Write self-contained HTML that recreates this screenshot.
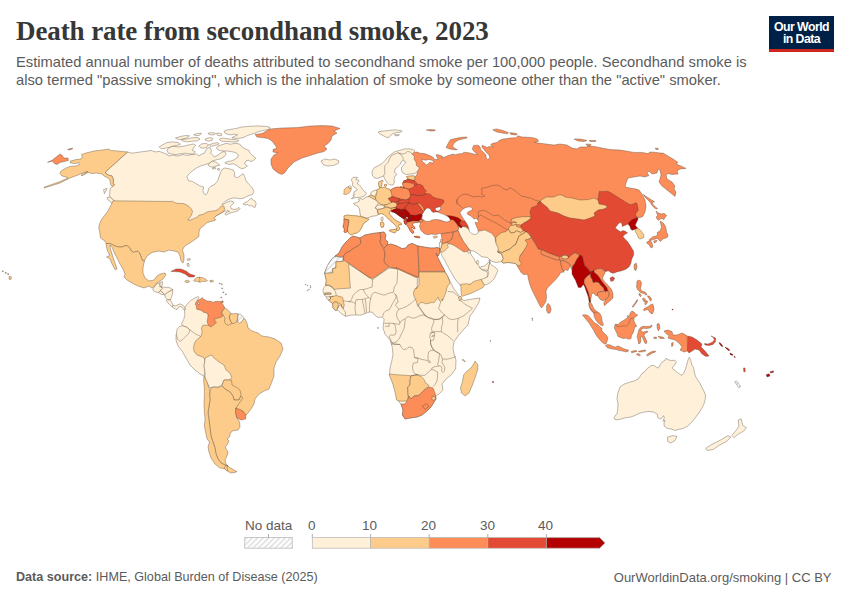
<!DOCTYPE html>
<html><head><meta charset="utf-8"><title>Death rate from secondhand smoke, 2023</title>
<style>
html,body{margin:0;padding:0;background:#fff;}
body{width:850px;height:600px;position:relative;overflow:hidden;font-family:"Liberation Sans",sans-serif;}
#title{position:absolute;left:16px;top:15.9px;font-family:"Liberation Serif",serif;font-weight:bold;font-size:27px;line-height:normal;color:#373737;white-space:nowrap;letter-spacing:-0.1px;}
#sub{position:absolute;left:16px;top:53.45px;font-size:14.74px;line-height:18px;color:#5b5b5b;white-space:nowrap;}
#logo{position:absolute;left:769px;top:16px;width:65px;height:33px;background:#002147;border-bottom:3px solid #ce261e;color:#fff;font-weight:bold;font-size:12.3px;line-height:12.5px;text-align:center;letter-spacing:-0.55px;}
#logo div{margin-top:4.7px;}
#src{position:absolute;left:16px;top:570px;font-size:12.6px;color:#5b5b5b;white-space:nowrap;}
#src b{font-weight:bold;}
#url{position:absolute;right:18.5px;top:569.7px;font-size:13px;color:#5b5b5b;white-space:nowrap;}
.lg{position:absolute;font-size:13.5px;color:#5b5b5b;top:518px;}
svg{position:absolute;left:0;top:0;}
</style></head><body>
<div id="title">Death rate from secondhand smoke, 2023</div>
<div id="sub">Estimated annual number of deaths attributed to secondhand smoke per 100,000 people. Secondhand smoke is<br>also termed "passive smoking", which is the inhalation of smoke by someone other than the "active" smoker.</div>
<div id="logo"><div>Our World<br>in Data</div></div>
<div class="lg" style="left:245px">No data</div>
<div class="lg" style="left:308px">0</div>
<div class="lg" style="left:362px">10</div>
<div class="lg" style="left:421px">20</div>
<div class="lg" style="left:480px">30</div>
<div class="lg" style="left:538px">40</div>
<div id="src"><b>Data source:</b> IHME, Global Burden of Disease (2025)</div>
<div id="url">OurWorldinData.org/smoking | CC BY</div>
<svg width="850" height="600" viewBox="0 0 850 600">
<defs><pattern id="hatch" width="3.9" height="3.9" patternUnits="userSpaceOnUse" patternTransform="rotate(45)"><rect width="3.9" height="3.9" fill="#fff"/><rect x="0" y="0" width="1.9" height="3.9" fill="#e4e4e4"/></pattern></defs>
<g stroke="#4a3a2a" stroke-width="0.6" stroke-opacity="0.6" stroke-linejoin="round">
<path d="M390,198L398,196L408,196L412,200L412,210L406,216L400,216L396,210L392,204Z" fill="#e34a33" stroke="#e34a33" stroke-width="0.9" stroke-opacity="1"/>
<path d="M410,193L410.5,196L409,198.5L408.5,201L409,202.5L410,203.5L412,204.5L416,204L419,203.5L417,203.5L418.5,203.5L421,206L422,208L423.5,209.5L425,210.2L427,208.2L430,209L432,213L436,213L440.5,209.5L440,206.5L442,204.5L444,202.5L443.5,200L440,199L437,198.5L433,197L430,194L426,193.5L423,195L418,195.5L413,194.5L410,195Z" fill="#e34a33" stroke="#e34a33" stroke-width="0.9" stroke-opacity="1"/>
<path d="M417.24,203.24L418.53,202.94L420.29,203.82L422.06,205.59L423.53,207.65L424.12,209.12L423.24,210.41L422.65,210.59L421.35,209.71L420.76,208.24L419.71,206.65L418.53,205.29L417.65,204.41Z" fill="#fc8d59" stroke="#fc8d59" stroke-width="0.9" stroke-opacity="1"/>
<path d="M410,187.5L412,185L416,184.5L419,184L422.5,185.5L424,188.5L426.5,191L425,192.5L425.5,194L423,195L418,195.5L413,194.5L410,195L407,194.5L405,192.5L405.5,189.5L407,187.8Z" fill="#e34a33" stroke="#e34a33" stroke-width="0.9" stroke-opacity="1"/>
<path d="M406.5,176.5L410,176L414,175.8L415,178L414.5,180.5L410,179.5L407.5,178.5Z" fill="#fdcc8a" stroke="#fdcc8a" stroke-width="0.9" stroke-opacity="1"/>
<path d="M403.5,181L406,180.5L407.5,179L410,179.8L414.5,180.8L417,183L416.5,185L414,185.5L410,184.5L407,184L404,183.2Z" fill="#e34a33" stroke="#e34a33" stroke-width="0.9" stroke-opacity="1"/>
<path d="M402.5,182.8L406,182.2L410,182.8L414,183.8L414.5,186L412,188L409,189L406.5,188.5L404,187.5L403,185.5Z" fill="#fc8d59" stroke="#fc8d59" stroke-width="0.9" stroke-opacity="1"/>
<path d="M400,186.8L404,187.2L404,188L400.5,188.2Z" fill="#fc8d59" stroke="#fc8d59" stroke-width="0.9" stroke-opacity="1"/>
<path d="M390.5,190L394,188L398,187L402,188L406.5,188.5L409,190L410,193L410.5,196L409,198.5L406,200L402.5,199.5L399.5,198.5L396.5,198L394,197L391.5,196L391,193Z" fill="#fc8d59" stroke="#fc8d59" stroke-width="0.9" stroke-opacity="1"/>
<path d="M388,198.5L391,197L394,197L397,198.2L399.5,199L399,201L396,202L393,202.2L390.5,201.5Z" fill="#e34a33" stroke="#e34a33" stroke-width="0.9" stroke-opacity="1"/>
<path d="M398,201.8L400,200.5L402.5,199.7L406,200L409,199L409,202.5L406,203.5L402,204L399,204Z" fill="#e34a33" stroke="#e34a33" stroke-width="0.9" stroke-opacity="1"/>
<path d="M396.76,204.12L399.12,203.82L402.06,203.24L405,202.65L407.65,202.35L408.53,203.24L407.65,205L406.18,206.47L404.41,207.65L402.65,208.82L401.47,209.71L399.12,209.12L396.76,208.65L396.47,206.76Z" fill="#e34a33" stroke="#e34a33" stroke-width="0.9" stroke-opacity="1"/>
<path d="M406.18,206.47L407.65,205L408.53,203.24L410.88,203.82L413.24,204.41L415.59,203.82L417.24,203.24L417.65,204.41L418.53,205.29L419.71,206.65L420.76,208.24L421.35,209.71L422.65,210.59L423.82,211.47L422.94,212.65L421.76,214.12L421,214.12L419.12,214.41L416.76,215.29L414.41,215.59L412.06,215L410.29,215.29L409.12,212.65L407.65,211.47L406.18,209.71L405.29,208.24Z" fill="#e34a33" stroke="#e34a33" stroke-width="0.9" stroke-opacity="1"/>
<path d="M376.5,190L379.5,188.5L380.5,187.2L382.5,187.5L384.5,187L387,188.5L390,189.5L391,192L392,195L391,197L388,198.5L390,201L391.5,202.5L389.5,204L387,204.5L384,205L381,204.5L378.5,203L376.5,201L375.5,198.5L376,195L377,192Z" fill="#fdcc8a" stroke="#fdcc8a" stroke-width="0.9" stroke-opacity="1"/>
<path d="M378.59,182.65L379.18,181.47L380.65,181.18L381.82,180.29L382.71,180.29L382.82,181.47L381.82,182.65L382,184.41L381.24,186.18L380.35,187.65L379.47,187.35L378.88,185.88L378.47,184.12Z" fill="#fdcc8a" stroke="#fdcc8a" stroke-width="0.9" stroke-opacity="1"/>
<path d="M384.47,184.59L385.65,184.24L386.71,184.71L386.53,185.88L385.35,186.35L384.47,185.76Z" fill="#fdcc8a" stroke="#fdcc8a" stroke-width="0.9" stroke-opacity="1"/>
<path d="M371,192.5L374,190.5L376.5,190L377,192L375.5,195L374.5,196.5L371.5,195.2L370.5,194Z" fill="#fef0d9" stroke="#fef0d9" stroke-width="0.9" stroke-opacity="1"/>
<path d="M368.5,196L371.5,195.2L374.5,196.5L375.5,198.5L374.5,200L371.5,198.2L369,197Z" fill="#fdcc8a" stroke="#fdcc8a" stroke-width="0.9" stroke-opacity="1"/>
<path d="M353.5,203.5L356.5,202.5L359.5,201L358.5,199L361,198.5L362.5,199.5L366.5,197L369,196.5L371.5,198L374.5,199.5L376.5,201L378.5,202.5L377.5,204.5L376,206.5L375.5,208.5L377.5,210L377.2,212L378.5,214.5L376,215.8L373,216L370,217L367,218.2L364,217.2L360.5,216L360,213L359.5,209L358,206.5L355,205Z" fill="#fef0d9" stroke="#fef0d9" stroke-width="0.9" stroke-opacity="1"/>
<path d="M381,218L382.5,216.8L383.2,219L382.5,221L381.2,220.5Z" fill="#fef0d9" stroke="#fef0d9" stroke-width="0.9" stroke-opacity="1"/>
<path d="M375.5,207L378.5,205L382,205L384.5,206.2L384,208L381,209L378,209.5L376,208.5Z" fill="#fef0d9" stroke="#fef0d9" stroke-width="0.9" stroke-opacity="1"/>
<path d="M384,205L387,204.5L390,203L393,202L396,202.8L397,205L396,207L393,207.8L390,208L387,207L384.5,206.5Z" fill="#fdcc8a" stroke="#fdcc8a" stroke-width="0.9" stroke-opacity="1"/>
<path d="M344,216L347,215L351,215.5L356,215.8L360.5,216.5L364,217.8L367,218.5L369,219.2L367,221.2L364,223L362.5,225.5L361.5,228L360,230.5L357,233L354,233.5L351,235L349.5,234L348,232L347.5,229L348,226L348.5,223L349,220L346,219.5L344,218.5Z" fill="#fdcc8a" stroke="#fdcc8a" stroke-width="0.9" stroke-opacity="1"/>
<path d="M344,219L346,219.5L348.8,220.2L348.5,223L348,226L347.5,229L347.5,231.5L345.5,232.5L344,232L344.5,229L343,227L344,223Z" fill="#fc8d59" stroke="#fc8d59" stroke-width="0.9" stroke-opacity="1"/>
<path d="M377.5,210L378,209.5L381,209L384,208L387,207.2L390,208.2L392,209.5L391,211L389,212L390,214.5L393,218L396,220.5L399,222L402,224L401,225L399,224.5L398.5,226.5L400,228L399,230L397.8,231L396.5,229.5L397,227.5L395.5,225.5L393,223L390,220.5L387,217.5L384,214.5L381,213.5L378.5,214.5Z" fill="#fdcc8a" stroke="#fdcc8a" stroke-width="0.9" stroke-opacity="1"/>
<path d="M389.5,230L393,229.5L396.5,229L396,231.5L395,233L392,232L389.5,231Z" fill="#fdcc8a" stroke="#fdcc8a" stroke-width="0.9" stroke-opacity="1"/>
<path d="M380.5,222.5L383,222L384,224L383.5,227L381.5,227.5L380.5,225Z" fill="#fdcc8a" stroke="#fdcc8a" stroke-width="0.9" stroke-opacity="1"/>
<path d="M391.18,208.53L393.24,207.94L395.29,207.65L396.76,208.65L394.71,209.12L392.65,210L391.18,210.41Z" fill="#fdcc8a" stroke="#fdcc8a" stroke-width="0.9" stroke-opacity="1"/>
<path d="M391.18,210.88L392.65,210L394.71,209.12L396.76,208.65L399.12,209.12L401.47,209.71L402.65,209.41L402.94,210.59L403.53,211.76L402.65,211.76L400.29,211.47L397.65,211.18L395.59,211.76L397.65,212.94L399.41,214.12L401.18,215.59L402.65,216.76L403.24,218.24L402.06,217.65L400,216.18L397.94,214.71L395.88,213.24L393.82,212.06L392.06,211.76Z" fill="#b30000" stroke="#b30000" stroke-width="0.9" stroke-opacity="1"/>
<path d="M395.59,211.76L397.65,211.18L400.29,211.47L402.65,211.76L403.53,211.76L404.41,213.24L404.12,215L404.12,215.88L402.65,216.76L401.18,215.59L399.41,214.12L397.65,212.94Z" fill="#b30000" stroke="#b30000" stroke-width="0.9" stroke-opacity="1"/>
<path d="M402.65,209.41L404.41,209.12L406.18,209.71L407.65,211.47L409.12,212.65L410.29,215.29L410.59,217.35L410.88,219.12L408.53,219.24L408.06,217.65L407.06,216.88L405.88,217.35L405,216.47L404.12,215L404.41,213.24L403.53,211.76L402.94,210.59Z" fill="#b30000" stroke="#b30000" stroke-width="0.9" stroke-opacity="1"/>
<path d="M402.65,216.76L404.12,215.88L405,216.47L405.88,217.35L406.47,218.82L405.29,218.53L404.12,219.12L403.24,218.24Z" fill="#b30000" stroke="#b30000" stroke-width="0.9" stroke-opacity="1"/>
<path d="M405.88,217.35L407.06,216.88L408.06,217.65L407.65,218.82L406.47,218.82Z" fill="url(#hatch)" stroke="url(#hatch)" stroke-width="0.9" stroke-opacity="1"/>
<path d="M404.12,219.12L405.29,218.53L406.47,218.82L406.88,221.47L406.47,223.24L405.59,224.41L404.71,223.82L404.12,221.76Z" fill="#e34a33" stroke="#e34a33" stroke-width="0.9" stroke-opacity="1"/>
<path d="M406.76,219.71L407.65,218.82L408.53,219.24L410.88,219.41L411.47,220.88L410.29,221.76L408.24,222.06L406.88,221.47Z" fill="#b30000" stroke="#b30000" stroke-width="0.9" stroke-opacity="1"/>
<path d="M410.29,215.29L412.06,215L414.41,215.59L416.76,215.29L419.12,214.41L421,214.12L421.94,215.29L421.47,216.76L420.88,218.24L421.47,219.41L419.71,220L417.94,220.88L415.59,220.88L413.24,220.59L411.47,220.88L410.88,219.12L410.59,217.35Z" fill="#b30000" stroke="#b30000" stroke-width="0.9" stroke-opacity="1"/>
<path d="M406.5,224.5L407.5,222L410.5,221.8L414,221L417,221L419,221.5L417.5,222.5L415.5,222.5L413.5,223L412.2,224L413,225.5L414.5,227L415,229L413.5,228.5L412,227L411.2,228L412.5,230L414,232L413,233.5L411.5,232.5L410,230.5L409,228.5L407.8,226.5Z" fill="#fc8d59" stroke="#fc8d59" stroke-width="0.9" stroke-opacity="1"/>
<path d="M414,236.5L417,236.2L420,237L419.5,237.8L416,237.5Z" fill="#fc8d59" stroke="#fc8d59" stroke-width="0.9" stroke-opacity="1"/>
<path d="M419.71,220L421.47,219.41L423.24,220.29L422.65,221.76L420.29,222.35L418.82,221.76Z" fill="#fc8d59" stroke="#fc8d59" stroke-width="0.9" stroke-opacity="1"/>
<path d="M127.6,152L132,153.2L140,152L148,151L152,150.4L152.82,151.34L156.35,151.91L159.18,151.34L164.12,153.18L167.65,154.59L168.35,156L173.29,155.29L178.24,156L182.47,154.59L186.71,155.29L192.35,154.59L196.59,153.88L198.71,156L200.82,154.59L204.35,153.18L205.76,150.35L207.18,148.24L210,147.53L211.41,150.35L210.71,153.18L212.82,155.29L214.24,156.99L217.76,155.29L220.59,153.18L222.71,151.76L224.82,151.76L226.24,153.88L224.12,156.71L220.59,158.82L216.35,159.81L212.82,160.94L209.29,163.06L205.76,164.47L200.82,165.88L196.59,168L192.35,170.82L188.82,174.35L186.99,176.47L188.4,180.71L192.35,181.41L195.88,183.53L199.41,185.65L203.65,187.06L202.94,190.59L203.65,193.41L205.76,194.82L207.88,192L208.59,188.47L210.71,186.35L214.94,184.24L217.76,180.71L219.18,176.47L220.59,172.24L222,169.41L224.82,168L229.06,168.71L233.29,170.12L234.71,172.94L234.42,176.47L236.82,177.88L240.35,175.76L243.18,173.65L244.59,176.47L246,180.71L248.82,184.24L251.65,187.06L253.76,190.59L253.5,192L252.5,194.5L249,195.5L246.5,196.5L244,198L240,198.8L236,198L232,198.2L229,199.2L226,200.8L223.5,202.8L222,205L224.5,203.5L227.5,202L230.5,201L233,201.5L234,203L232,204.5L230.5,206.5L231,208.5L234,209.5L236.5,209L239,207.5L240,208.5L239,210L236,211.5L232,212.5L229,213.5L226.5,215L225,214.5L225.5,213L227.5,212L229.5,211.2L227,210.8L224.5,211.2L218,215L200,225L185,223L170,210L170,208L115,208L115,201.4L111,198L109.6,196L110,189L112,187L114.4,185L113,183L113.6,180L112,176L108,175L105,172.4Z" fill="#fef0d9"/>
<path d="M107,197.6L110,197L114.4,201L113.6,205L111,202L108,200Z" fill="#fef0d9"/>
<path d="M103.6,189.6L107,188.4L106,191L104.4,193.6Z" fill="#fef0d9"/>
<path d="M243,204L245,202.5L247.5,201.5L250,199L251.5,198L253,200L255,201L256.2,203.5L255,207.5L253,206.5L251.5,205.5L249.5,206L247.5,204.5L245,205Z" fill="#fef0d9"/>
<path d="M216.35,148.24L217.76,146.12L222,144.71L226.24,143.29L230.47,144.28L234.71,143.29L239.65,144L241.76,146.82L245.29,148.94L248.82,150.35L250.24,153.18L253.06,156L255.88,158.12L253.76,160.24L250.94,161.65L248.82,160.24L246,160.94L244.59,163.76L247.41,165.88L244.59,168L241.76,168.71L238.94,167.29L236.12,165.18L233.29,163.76L229.06,164.47L224.82,163.06L226.94,161.65L231.18,160.94L234.71,159.53L237.53,157.41L238.24,154.59L235.41,152.47L231.88,151.76L227.65,151.06L223.41,151.06L219.18,150.35Z" fill="#fef0d9"/>
<path d="M224.12,131.29L226.94,129.88L231.88,129.18L236.12,128.47L241.76,127.06L248.82,126.35L257.29,125.93L265.76,126.35L269.58,127.06L269.58,129.18L262.94,130.59L257.29,132L254.47,133.41L251.65,134.12L247.41,135.53L243.18,137.65L238.94,138.35L234.71,138.35L231.88,137.65L234.71,136.24L237.53,134.82L234.71,134.12L230.47,134.82L226.94,134.12L224.82,132.99Z" fill="#fef0d9"/>
<path d="M219.18,139.06L223.41,138.07L229.06,139.06L234.71,139.48L238.94,140.47L237.53,141.88L231.88,141.88L226.24,141.46L221.29,141.18Z" fill="#fef0d9"/>
<path d="M216.35,133.41L219.18,132.99L222,134.12L221.29,135.81L217.76,135.53Z" fill="#fef0d9"/>
<path d="M207.88,133.41L211.41,132.42L215.65,133.41L214.24,134.82L210,134.82Z" fill="#fef0d9"/>
<path d="M166.94,150.35L169.06,147.53L172.59,146.12L178.24,146.82L183.88,146.12L189.53,144.71L193.76,144L195.88,145.41L193.76,147.53L192.35,150.35L195.18,151.76L193.76,153.88L189.53,153.88L185.29,153.18L180.35,153.88L175.41,154.59L171.18,153.88L168.35,153.18Z" fill="#fef0d9"/>
<path d="M159.18,146.82L162.71,144.71L166.94,142.59L172.59,141.88L178.24,142.59L180.35,144.28L176.82,145.41L172.59,146.12L169.06,147.53L164.82,148.24L161.29,148.94Z" fill="#fef0d9"/>
<path d="M175.41,138.07L179.65,136.66L185.29,135.53L189.53,135.81L187.41,137.65L183.88,138.64L180.35,139.48L177.53,139.06Z" fill="#fef0d9"/>
<path d="M193.76,134.82L197.29,133.41L201.53,133.41L199.41,135.25L195.88,135.81Z" fill="#fef0d9"/>
<path d="M181.06,139.76L186.71,139.06L192.35,137.65L198,137.65L200.12,139.06L197.29,140.89L192.35,141.18L186.71,141.88L183.18,141.18Z" fill="#fef0d9"/>
<path d="M198.71,146.12L201.53,144L205.76,143.29L208.59,144.71L206.47,147.53L202.94,148.24L200.12,147.53Z" fill="#fef0d9"/>
<path d="M205.06,139.06L209.29,137.65L212.82,138.35L212.12,140.47L208.59,141.18L205.76,140.47Z" fill="#fef0d9"/>
<path d="M209.29,144.71L213.53,143.29L217.76,142.59L219.18,144L214.94,145.41L210.71,146.54Z" fill="#fef0d9"/>
<path d="M207.88,165.18L212.12,160.94L216.35,162.35L219.88,165.18L216.35,165.88L212.82,167.29L210,166.59Z" fill="#fef0d9"/>
<path d="M212.12,168L215.22,167.29L215.65,168.71L212.82,169.13Z" fill="#fef0d9"/>
<path d="M217.48,168.71L219.18,168.28L219.46,170.12L217.76,170.12Z" fill="#fef0d9"/>
<path d="M113,200.8L111.5,204L110,207L108,211L105,215L102.5,218L100.5,221.5L99.2,225L98.8,228L99.5,231L100,234.5L100.5,238L102.5,239.5L105,241L106,243.5L110,243.5L112,244.5L115,246L118.5,247L122,247L124.5,246L126.5,245.5L128.5,246.5L130,248.5L131.5,251L133.5,252.5L135.5,251.5L138,251.2L139.5,253L140.5,255.5L141.5,258L142,260L144.4,261L147,256L152,252.4L159,251L164,252L169,250L174,251L178,252L180,256L181,261L183,263L184,260L184,255L182.4,250L184,247L186.5,245L190,243L193.5,240.5L196.5,238.5L198.5,237L199,235L199,232L199.5,230L200.5,228L202,227L203.5,226L205,224.5L206.5,223L209,222L212,221.2L215,220.5L215.8,219.5L214,218.5L215,217L216.5,215.5L219,214.2L222,212.5L224,211.2L224.5,209L224,206.2L221.5,206L220,207.2L218,209.5L215,210.8L211,211.2L207,212L203,214.5L199,215L197.5,217L194,218.5L190,220.2L187.8,220L189.5,218L191.5,215L192.5,211.5L191.5,209L189,206.5L186,204.5L183,203.5L179,203.5L175,202.8L172.5,201.2L170,201.5Z" fill="#fdcc8a"/>
<path d="M81.6,154.4L86,153L94,151L102,150L109,149L110.4,150.4L118,151L127.6,152L105,172.4L108,175L112,176L113.6,180L113,183L114.4,185L112,186.6L110.4,184L110,180L108,178L104,176L102,174L96,173L92,173.6L88,172.4L82,176L81,175L88,171.6L84,172.4L78,175L70,178L60,183L52,185.6L44,188L44.4,187L52,184.4L60,181.6L68,178L66,177L62,176L60,173.6L61,171L66,168L70,166.4L76,166L80,164L79,162.6L75,163.6L70.4,163L70.4,161L76,159.6L81,159L82.4,157Z" fill="#fdcc8a"/>
<path d="M47.6,162.4L52.4,160L60,154L62.4,155.6L63.6,158L68,158L68.4,160.4L64,161.6L60,162.4L57,164.4L54.4,163.6L52.4,161Z" fill="#fc8d59"/>
<path d="M67.6,149.4L72.4,148L72.4,149L69,150Z" fill="#fc8d59"/>
<path d="M255,134.4L262,133.6L270,129L282,128L298,127.6L310,126L322,125.6L332,126L340,128.4L334,131L337,133L332,136L331,140L328,143.6L324,146L327,149L324,151.6L318,153L310,155.6L302,158L294,162L288,168L285,172.4L282,174.4L278,173L273,169L271,164L271,159L274,155L278,153L273,152L273,149.6L277,148L275,145L272,141L268,138.4L262,137.6L257,137Z" fill="#fc8d59"/>
<path d="M321,161L325,159L330,160L335,159L339,161L338,163.6L333,165.6L327,166L323,164.4Z" fill="#fef0d9"/>
<path d="M106,243.5L110,243.5L112,244.5L115,246L118.5,247L122,247L124.5,246L126.5,245.5L128.5,246.5L130,248.5L131.5,251L133.5,252.5L135.5,251.5L138,251.2L139.5,253L140.5,255.5L141.5,258L142,260L144.4,261L143,268L143,273L145,278L149,281L154,280L157,276L160,274L165,273L166,275L163,279L160,281L157,283L155,286L152,288L149,286L144,288L138,286L132,283L127,280L124,277L125,274L123,269L120,264L117,258L114,252L112,247L110,245L110.4,249L112,254L114,260L116,266L117,269L115,269.6L112,264L110,259L107,257L106.5,257L108.5,256.5L109.5,254.5L107.5,251L106.5,247Z" fill="#fdcc8a"/>
<path d="M159.76,282.71L162.31,281.58L162.59,284.12L161.18,286.94L159.76,286.66Z" fill="#fef0d9"/>
<path d="M152.71,289.06L154.82,286.24L156.94,283.41L159.76,282.99L159.76,286.66L161.18,286.94L162.59,288.35L160.47,290.47L158.35,292.59L155.53,291.88L153.41,290.89Z" fill="#fef0d9"/>
<path d="M161.18,286.94L164.71,287.22L169.65,287.65L172.75,289.48L170.35,290.89L167.53,292.59L164.71,294.71L163.29,293.29L160.47,290.47L162.59,288.35Z" fill="#fef0d9"/>
<path d="M158.35,292.59L160.47,290.75L163.29,293.29L164,294.71L161.18,294.28Z" fill="#fef0d9"/>
<path d="M164.71,294.71L167.53,292.59L170.35,290.89L172.75,289.76L172.47,294L171.34,297.53L170.35,299.93L167.53,299.65L165.41,297.53Z" fill="#fef0d9"/>
<path d="M166.12,300.35L167.53,299.65L170.35,299.93L171.76,302.47L173.18,305.29L172.19,306.99L170.35,305.29L168.24,303.18Z" fill="#fef0d9"/>
<path d="M172.19,306.99L173.18,305.29L175.29,306L177.41,305.01L180.24,303.88L183.06,305.29L184.89,307.41L185.46,309.53L183.76,309.81L182.35,307.41L180.24,306.42L178.12,307.41L176.99,309.81L175.29,308.82L173.88,308.12Z" fill="#fef0d9"/>
<path d="M171,271.4L176,269L181,269L186,271L190,274L195,275.6L194,277L189,277L185,274L180,272L175,271.6Z" fill="#e34a33"/>
<path d="M193.65,280.16L196.47,277.76L199.29,277.06L202.82,277.76L205.65,279.18L207.48,280.59L204.94,281.58L202.12,281.29L200,282.42L197.18,281.29L194.35,281.29Z" fill="#fdcc8a"/>
<path d="M199.29,277.06L200,279.88L199.01,282" fill="none"/>
<path d="M184.89,281.01L187.29,280.16L189.41,281.01L188.71,282.42L185.88,282.42Z" fill="#fdcc8a"/>
<path d="M209.88,280.59L212.71,280.16L213.69,281.29L211.29,282.14L209.88,281.58Z" fill="#fdcc8a"/>
<path d="M187,259L190,258.6L190.4,260L187.6,260.4Z" fill="#fef0d9"/>
<path d="M187,263.6L189,263.6L189.2,266.4L187.4,266Z" fill="#fef0d9"/>
<path d="M219.34,282.99L220.19,282.99L220.19,283.84L219.34,283.84Z" fill="#fdcc8a"/>
<path d="M221.46,283.69L222.31,283.69L222.31,284.54L221.46,284.54Z" fill="#fdcc8a"/>
<path d="M221.74,287.93L222.59,287.93L222.59,288.78L221.74,288.78Z" fill="#fdcc8a"/>
<path d="M222.87,291.88L223.72,291.88L223.72,292.73L222.87,292.73Z" fill="#fdcc8a"/>
<path d="M225.41,293.86L226.26,293.86L226.26,294.71L225.41,294.71Z" fill="#fdcc8a"/>
<path d="M220.75,297.11L221.6,297.11L221.6,297.95L220.75,297.95Z" fill="#fdcc8a"/>
<path d="M220.19,301.76L222.59,300.78L223.01,302.47L220.75,302.75Z" fill="#fdcc8a"/>
<path d="M245,319L247,323L248,328L252,331L258,333L262,336L269,337L275,339L281,343L283,349L280,356L276,362L274,368L274,376L274,376L271,384L269,389L264,391L259,394L255,399L254,404L251,409L248,413L246,415L242,414.4L237,411L236,404L237,396L234,389L228,384L228,380L224,374L218,368L210,362L202,361L193,355L191,346L195,336L199,325L209,319L219,315L226,314.4L240,317.6Z" fill="#fdcc8a"/>
<path d="M176,340L176,334.4L185,328.4L194,330L200,333.6L200.7,336.6L196.5,339.9L194.4,343.4L193.4,348.4L194.4,351.9L197,355L203,357L205,360L204,366L205,372L204,376L200,374L195,370L190,365L186,358L182,351L178,346Z" fill="#fef0d9"/>
<path d="M184.89,307.41L187.29,303.88L190.82,300.35L194.35,298.24L197.88,296.54L199.01,297.53L197.18,300.35L197.18,302.47L197.88,306.71L199.29,308.82L202.82,309.81L207.06,312.07L208.47,315.88L209.18,319.41L209.46,324.35L208.89,325.48L206.35,325.06L202.82,325.34L201.41,327.88L202.12,332.12L201.41,335.22L200.71,336.35L199.29,335.65L195.76,334.24L192.94,332.12L190.12,330L186.59,327.18L182.35,325.76L181.65,323.65L183.76,319.41L184.89,314.47L184.47,310.24L185.46,309.53Z" fill="#fef0d9"/>
<path d="M195.12,304.25L196.25,302L198.12,300.12L199.62,299.38L201.12,298.85L202.25,297.5L203,299L204.88,299.75L206.75,300.88L209,301.25L211.25,301.25L213.12,302.38L215,301.62L217.25,301.25L219.5,301.62L221.38,302.38L222.5,300.88L223.25,302L222.12,303.5L223.25,305L224.38,306.88L224.75,308L223.62,309.5L222.5,311L221.75,313.25L223.25,315.12L222.12,316.62L220.25,317.38L218,318.12L215.75,318.5L214.62,319.25L215,321.5L216.5,322.62L214.62,324.12L212.75,325.62L210.88,327.12L209.38,326L207.88,324.12L207.12,321.88L207.5,319.62L207.88,317L208.25,314.75L207.12,313.25L204.88,312.5L203,312.12L201.88,310.62L199.62,309.88L197,309.5L196.25,307.62L196.62,306.12Z" fill="#fc8d59"/>
<path d="M197.9,302.75L198.88,302L199.62,303.12L199.25,304.62L198.35,304.62Z" fill="#ffffff"/>
<path d="M176.42,334.24L176.99,329.29L179.53,326.47L182.35,325.76L186.59,327.18L190.12,330L188.71,333.53L185.88,336.35L183.06,339.18L180.24,341.29L177.41,339.18Z" fill="#fef0d9"/>
<path d="M205,358L209,356L212,355L214,358L219,362L224,365L226,370L230,373L232,378L229,380L224,380L222,385L218,387L213,387L210,388L207,383L205,378L205,372L204,366L205,360Z" fill="#fef0d9"/>
<path d="M224.75,308L226.25,308.75L228.12,310.25L230,312.12L230.9,313.62L230,315.12L229.25,317L229.85,319.25L230.9,321.5L231.88,323.38L230,324.5L227.75,325.25L225.88,324.12L224.75,322.25L224.38,320L225.12,318.5L223.25,315.12L221.75,313.25L222.5,311L223.62,309.5Z" fill="#fdcc8a"/>
<path d="M230.9,313.62L233,313.85L236,313.4L237.88,314L238.1,316.25L237.5,318.88L236.75,321.5L234.88,323L233,323.6L231.88,323.38L230.9,321.5L229.85,319.25L229.25,317L230,315.12Z" fill="#fdcc8a"/>
<path d="M237.88,314L239.75,314.15L242,315.5L243.88,317.9L242.75,320L241.25,322.25L239.38,323.15L237.88,322.25L237.5,318.88L238.1,316.25Z" fill="url(#hatch)"/>
<path d="M222,385L224,380L229,380L231.6,380.4L232,385L236,387L240,390L241,395L239,400L234,400L233,396L230,392L225,389Z" fill="#fdcc8a"/>
<path d="M211,388L214,387L218,387.6L222,386L225,389L230,392L233,396L234,400L239,400L241,396L243,398L240,402L236,408L235.6,413L237,418L239.6,422L240,427L238,430L232,431L230,434L229.6,437L227,439L229,441L227,445L225,447L228,452L227,456L225,460L226,464L228,466L225,465L221,463L218,459L216,454L215,448L213,442L211,436L210,428L209,420L208,413L209,406L210,400L209.6,394Z" fill="#fdcc8a"/>
<path d="M204,376L207,382L209.6,390L209.6,394L210,400L209,406L208,413L209,420L210,428L211,436L213,442L215,448L216,454L218,459L221,463L225,465L228,466L226,469L220,468L215,464L211,458L209,452L208,447L209.6,442L207,439L205.6,432L204.4,426L205,419L204.4,412L204,404L204.4,396L204.4,388L203.6,380Z" fill="#fdcc8a"/>
<path d="M226,465L229,467L234,470L237,471.6L235,472.4L231,473L227,471L224,468Z" fill="#fdcc8a"/>
<path d="M227,465.6L227.6,471" fill="none"/>
<path d="M235.6,408.4L239,409L243,411L246,415L245.6,419L241,420L237,418L235.6,413Z" fill="#fc8d59"/>
<path d="M353,236L360,238L365,235L373,233.4L380,232.6L384,232L386,235L385,239L388,242L387,245L391,244L397,246L402,248.6L406,248L408,245L412,243.4L418,246L424,247L430,248L435,248L437,247.4L440,248.6L439.6,253L438,256L436,253L438,258L441,264L445,271.4L448,277L451,283L454,289L458,294L460,297L462,299.4L464,300.6L472,299L480,298L479,302L475,309L470,316L468,325L464,329L458,336L454,342L453,348L454,354L456,360L455.6,369L451,375L446,379L442,384L443,390L439,394L435.6,396L436,399L434,402L431,407L427,411L422,415L417,417L410,418L405,419L402.4,415L403,410L401,404L399,402L397,396L395,388L392,380L389.6,374L390,368L392,360L393,354L392,346L390,340L385,334L383,328L384,320L384.24,319.18L382.12,317.06L377.88,317.48L374.35,314.94L372.24,312.12L369.41,312.12L364.89,313.53L360.94,315.22L356,314.94L350.35,315.22L345.41,316.35L341.18,313.53L338.35,310.71L335.25,310.42L332.99,307.88L332.71,303.65L330.59,301.95L328.47,300.12L326.78,298.71L326.35,296.87L324.24,295.18L322.82,290.24L323.95,287.41L325.65,285.29L326.35,280.35L325.36,276.82L324.94,273.29L324.52,272.87L326.35,268.35L328.47,264.12L331.29,259.88L334.12,257.06L339,253L342,247L345,243L350,238Z" fill="#fef0d9"/>
<path d="M334,256.67L343.33,257.33L343.33,261.33L336,261.73L336,268L332.67,268.67L332.67,272.93L324.67,273.33L325.73,270L327.33,266L329.73,262L332,258.67Z" fill="url(#hatch)"/>
<path d="M324.94,273.29L324.66,273.29L332.71,272.87L332.71,268.64L335.95,267.93L335.95,261.72L343.29,261.29L343.29,258.05L348.66,263.27L350.35,288.12L338.35,288.82L334.12,289.53L332,286.99L328.47,285.29L325.65,285.29L326.35,280.35L325.36,276.82Z" fill="#fdcc8a"/>
<path d="M335,256L339,253L342,247L345,243L350,238L353,236L360,238L361,243L358,246L354,248L350,251L346,253L343.6,256L343.6,257Z" fill="#fc8d59"/>
<path d="M343.6,257L343.6,256L346,253L350,251L354,248L358,246L361,243L360,238L365,235L373,233.4L380,232.6L381,237L380,242L382,246L384,249L385,255L384,261L386,264L389,267L378,275L372.4,278.6L369,277.4L350,264L343.6,260Z" fill="#fc8d59"/>
<path d="M380,232.6L384,232L386,235L385,239L388,242L387,245L384.4,248L382,246L380,242L381,237Z" fill="#fc8d59"/>
<path d="M384.4,248L387,245L391,244L397,246L402,248.6L406,248L408,245L412,243.4L418,246L419,277L416,277.4L397.6,269L394,268.6L389,267L386,264L384,261L385,255L384,249Z" fill="#fc8d59"/>
<path d="M418,246L424,247L430,248L435,248L437,247.4L440,248.6L439.6,253L438,256L436,253L438,258L441,264L445,271.4L419,271.4Z" fill="#fc8d59"/>
<path d="M419,272L445,272L448,277L450,283L447,287L446,292L444,297L442.4,300.6L442.72,298.96L440.56,301.67L438.93,300.05L438.39,297.34L436.98,298.42L435.68,300.59L434.06,302.76L431.89,302.21L429.18,303.3L425.93,303.84L423.22,302.76L421.05,302.21L419.43,304.06L417.8,306.01L416.72,302.76L415.63,299.5L414.01,296.25L413.47,293L414.55,289.21L417.26,287.59L415.6,289L419,285Z" fill="#fdcc8a"/>
<path d="M328.47,300.12L330.59,298.71L329.88,296.87L333.41,296.31L336.24,295.46L339.06,296.31L342.59,297.29L343.29,300.82L344.28,305.06L343.29,308.59L341.88,307.18L341.18,304.35L339.06,303.65L337.65,302.24L334.82,301.95L332.71,303.65L330.59,301.95Z" fill="#fdcc8a"/>
<path d="M332.71,303.65L334.82,301.95L337.65,302.52L338.64,305.76L337.22,309.29L335.25,310.42L332.99,307.88Z" fill="#fdcc8a"/>
<path d="M458.35,297.06L461.18,296.35L461.88,299.18L459.34,300.59Z" fill="#fdcc8a"/>
<path d="M389.5,374L397,374.8L405,375.2L410.5,375.8L415,375L417,374.5L418,375.2L410.8,376.2L410,380L409.8,385L407.5,387L408,394L408.2,398L406.5,401L400,401.2L396.5,400L395,392L392.5,383L390,377Z" fill="#fdcc8a"/>
<path d="M410.8,376L415,375.2L418,375L419.5,376L421,376.2L422.5,377.8L424.5,380.2L425.5,383L428,384.5L429,386.5L425,389L423,392L420,394.5L417,395.5L414,396L412,398L410,399L408.5,396L408,394L407.8,387L410,385L410.2,380Z" fill="#fdcc8a"/>
<path d="M401,404L405,404L407.6,400L409,396L411,399L414,396L419,395.6L422,392L426,389L429,387L433,388L435,393L435.6,396L436,399L434,402L431,407L427,411L422,415L417,417L410,418L405,419L402.4,415L403,410Z" fill="#fc8d59"/>
<path d="M422.4,406L426.4,403.6L429,406.4L425,409.4Z" fill="#fc8d59"/>
<path d="M432,397L434.4,396L435.6,398.4L433.6,400.4L432,399.6Z" fill="#fdcc8a"/>
<path d="M475,361L478,365L477.6,370L475,378L472,386L469,393L465,396L461.6,393L460.4,388L462.4,382L463.6,375L467,371L471,368L473.6,364Z" fill="#fdcc8a"/>
<path d="M325.65,285.29L328.47,285.29L332,286.99L334.12,289.53L335.53,291.65L336.24,295.18" fill="none"/>
<path d="M324.24,293.06L330.59,292.92L331.01,293.91L324.52,294.19" fill="none"/>
<path d="M326.35,296.87L329.88,296.59L333.41,296.31" fill="none"/>
<path d="M329.88,296.87L330.59,298.71L328.47,300.12" fill="none"/>
<path d="M337.22,309.29L338.64,305.76L341.18,304.78L341.88,307.18L343.29,309.01L345.41,312.12L345.41,316.35" fill="none"/>
<path d="M343.29,300.82L348.24,301.53L353.18,302.24L355.29,303.65L355.01,309.29L356,314.94" fill="none"/>
<path d="M348.94,264.12L371.53,278.94L372.52,279.65L372.24,286.99L363.76,289.53L360.24,289.53L356.71,291.65L353.18,295.18L351.76,298.71L350.35,301.53L348.24,301.53" fill="none"/>
<path d="M363.76,289.53L363.76,290.94L365.88,294.47L368.71,297.29L365.18,298.71L362.35,299.41L356,299.69L355.29,303.65" fill="none"/>
<path d="M362.35,299.41L363.06,303.65L364.47,310.71L364.89,313.53" fill="none"/>
<path d="M365.18,298.85L365.88,303.65L366.59,312.4" fill="none"/>
<path d="M368.71,297.29L370.54,299.41L369.69,303.65L369.41,312.12" fill="none"/>
<path d="M372.52,279.65L388.47,268.35L396.24,267.65" fill="none"/>
<path d="M396.24,267.65L397.65,270.47L397.36,276.82L396.94,283.18L394.12,287.41L393.41,292.35" fill="none"/>
<path d="M370.54,299.41L371.53,295.18L374.35,292.07L379.29,293.76L384.24,295.18L389.18,293.06L393.41,292.35" fill="none"/>
<path d="M396.24,267.65L417.41,277.11L417.13,287.41" fill="none"/>
<path d="M418.12,304.82L421.65,310.47L425.18,316.12L428.71,317.53L433.65,319.65L439.29,318.94L442.12,316.82L444.24,314.71" fill="none"/>
<path d="M440.71,302L438.59,308.35L441.41,311.88L444.24,314.71L449.18,318.94L453.41,319.65L458.35,318.24L463.29,316.12L467.53,312.59L472.47,308.35L464.71,304.12L461.88,301.29L459.34,300.59" fill="none"/>
<path d="M447.76,291.41L453.41,292.12L458.35,296.35" fill="none"/>
<path d="M458.35,318.24L457.65,322.47L457.65,332.35" fill="none"/>
<path d="M442.12,316.82L442.82,322.47L441.41,327.41L441.41,331.65L447.76,335.88L453.41,340.82" fill="none"/>
<path d="M433.65,319.65L433.93,321.76L432.94,324.59L431.53,328.12L432.24,332.35L434.35,331.65L441.41,331.65" fill="none"/>
<path d="M432.24,332.35L430.54,333.06L429.69,336.59L430.54,339.41L430.82,344.35L432.94,349.29" fill="none"/>
<path d="M430.54,333.06L434.35,332.07L434.78,335.18L431.53,336.31L434.35,335.88L433.65,340.12L431.11,340.54" fill="none"/>
<path d="M432.94,349.29L434.35,350.99L439.29,353.53" fill="none"/>
<path d="M391,344L400,344.5L401.5,347.5L403.5,349.5L406.5,349L409,347L412,347.5L413.5,350L414,354L414.5,357.5" fill="none"/>
<path d="M414.5,357.5L418,358.5L417.5,362.5L413.5,363L412.5,366L413,371L415,374L419,375L424.5,375.5" fill="none"/>
<path d="M414.5,357.5L418,358L422,359.5L425,360L428,361L429.5,363L430.5,362.5L430,361L428,360L428,356L428.5,352L431,350.5L434,350" fill="none"/>
<path d="M430.5,340L430.5,344L432,347.5L434,350L437,352L439.5,353.5" fill="none"/>
<path d="M439.5,353.5L439,358L438.5,361.5L437.5,364.5L439,366L435,366.5L432,368L431.5,369.5L428,372.5L424.5,375.5" fill="none"/>
<path d="M431.5,369.5L434,370L437.5,372L437.5,377L437,381L435,384.5L433,386.5" fill="none"/>
<path d="M439.5,353.5L441,355L442.5,359L442,362.5L443.5,365L444.8,367.5L444.5,371L443,372.5L441.5,371L442,368L440.5,366L439,366" fill="none"/>
<path d="M442.5,359L447,359.2L452,358L456,356.5" fill="none"/>
<path d="M394.5,293.54L396.13,296.25L395.59,298.42L393.96,301.13L392.34,303.84L390.71,307.09L389.09,309.8L385.84,310.88L383.67,313.05L382.59,316.84" fill="none"/>
<path d="M394.5,293.54L396.67,295.71L397.21,298.96L398.3,302.21L396.13,303.3L395.59,305.46L397.21,307.09L398.84,309.26" fill="none"/>
<path d="M398.84,309.26L402.63,308.17L406.42,306.55L409.67,304.38L412.38,302.21L414.55,300.05L415.63,299.5" fill="none"/>
<path d="M417.8,306.01L421.59,310.88L424.85,314.67L425.93,315.76" fill="none"/>
<path d="M398.84,309.26L397.21,311.42L396.46,314.67L397.21,317.93L399.38,321.18L399.92,322.8" fill="none"/>
<path d="M399.92,322.8L401.55,320.63L404.8,319.01L406.42,317.38L408.59,316.63L411.84,317.93L415.09,317.93L418.34,316.3L421.59,315.22L424.3,314.89L425.93,315.76L428.64,317.93L431.35,318.14L434.06,319.23L437.85,319.55L441.1,318.47L443.27,316.3L445,314.67" fill="none"/>
<path d="M405.34,319.01L404.8,323.34L404.26,327.68L402.63,331.47L401.01,334.72L399.38,338.51L396.67,341.76L393.42,342.85L391.25,341.76" fill="none"/>
<path d="M384.21,323.34L389.09,323.13L392.88,323.34L396.13,323.89L399.38,324.43L399.92,322.8" fill="none"/>
<path d="M385.29,326.38L389.09,326.38L389.09,323.34" fill="none"/>
<path d="M392.88,323.34L395.05,324.97L395.59,328.22L396.13,332.01L395.05,334.72L392.34,335.26L390.71,334.72L389.09,336.89L390.71,339.6L391.25,341.76" fill="none"/>
<path d="M391.25,341.76L392.88,343.93L399.92,344.47" fill="none"/>
<path d="M414,152.5L417,152L420,153.18L424.24,153.6L428.47,155.01L432.71,156.99L434.82,159.53L438.35,159.53L436.94,156.99L436.24,154.59L440.47,155.29L442.59,156.42L441.18,158.12L444.71,156.99L448.94,155.29L453.88,153.88L454.59,155.01L458.12,153.88L462.35,153.6L463.76,152.19L468.71,152.75L473.65,153.88L477.88,154.59L476.47,153.18L474.35,151.76L472.24,148.94L473.65,145.41L477.88,145.13L480,146.82L480.71,149.65L482.82,151.76L485.65,154.59L486.35,158.12L487.76,159.53L489.88,158.12L489.18,155.29L486.35,152.47L484.24,149.65L482.12,147.53L482.12,145.41L484.24,146.12L487.06,147.53L489.18,146.54L493.41,146.82L490.59,144.71L492.71,143.29L496.94,142.59L499.06,140.47L503.29,139.06L510.35,138.07L516,137.65L518.12,135.81L521.65,136.94L527.29,137.22L532.94,137.65L537.18,139.06L538.59,141.18L534.35,142.31L540,143.29L546,144L554,145L560,144L567,145L572,148L577,149L580,147L586,147L589,146L594,146.4L602,148L610,149.6L620,150L626,151L634,152.4L642,152.4L648,153.6L650,152L656,152.4L660,153L663,153L668,156L673,159L678,162.4L676,164L682,166.4L686,168.4L680,169L677,171L678,174L672,174.4L668,173.6L666,175L667,179L672,182L675,186L674,189L676,192L675,196.4L672,194L667,190L662,186L659,182L660,179L661,175L660,170L658,169L657,173L652,174L649,171L647,173L649,175.6L645,177L640,176L634,177L628,178L626,183L625,187L630,188L636,189L639,190L642,194L645,200L646,206L645,212L643,216L642.35,216.82L639.41,217.65L637.06,217.29L630,216L600,214L545,215L535,222L525,232L510,236L497,242L480,238L470,232L462,228L452,224L445,222L435,218L425,212L420,200L414,190L414,180L415,177L416.8,174.6L417.3,173.2L417,170L413,162L411.5,156L412,152.5Z" fill="#fc8d59"/>
<path d="M446.12,147.53L448.24,143.29L450.35,139.76L456,138.35L462.35,137.22L466.59,136.94L466.87,138.07L462.35,139.06L457.41,140.47L453.88,143.29L452.47,146.12L454.59,148.24L457.41,149.65L453.88,149.65L449.65,148.94Z" fill="#fc8d59"/>
<path d="M426.35,129.88L431.29,129.6L435.53,129.88L434.82,130.87L430.59,131.01Z" fill="#fc8d59"/>
<path d="M492.71,129.88L496.24,128.89L501.88,130.16L508.24,132.42L507.53,133.84L501.88,132.99L496.94,132Z" fill="#fc8d59"/>
<path d="M509.65,132.71L513.88,132.99L517.41,134.12L516,134.96L511.06,134.4Z" fill="#fc8d59"/>
<path d="M574,139L580,139L587,140.4L584,141.6L578,141Z" fill="#fc8d59"/>
<path d="M589,140.4L596,140.6L595.6,141.6L590,141.4Z" fill="#fc8d59"/>
<path d="M586,144L591,144.4L590,146L587,145.6Z" fill="#fc8d59"/>
<path d="M655,148.4L657.6,148L658.4,149.4L656,149.6Z" fill="#fc8d59"/>
<path d="M644,195L647,197L650,199L653.5,201L654.5,202L652,202.2L653,204.5L655.5,207L657.5,208.5L656,209L654,207.5L651.8,205L650,202.2L647.5,199.5L645,197L643.2,194.5Z" fill="#fc8d59"/>
<path d="M456.99,204.71L456.71,200.47L458.82,196.94L462.35,194.54L466.59,194.12L470.12,195.53L473.65,196.94L477.88,196.24L482.12,196.94L484.66,196.24L483.53,194.82L481.41,194.12L482.12,191.29L481.41,188.47L486.35,187.48L492,185.65L496.94,184.94L500.47,186.35L502.59,188.47L506.82,189.88L510.35,187.76L513.88,189.88L517.41,192.71L521.65,196.24L525.88,196.94L531.53,198.35L535.76,200.47L539.29,201.18" fill="none"/>
<path d="M457,199L457,202L458.5,204.5L461,206.5L463,208.5" fill="none"/>
<path d="M477.5,220.83L478.33,216.67L478.33,211.67L483.33,210L488.33,212.5L493.33,215.83L498.33,215L503.33,219.17L507.5,221.67L510.83,223.33L511.67,219.17" fill="none"/>
<path d="M478.33,216.67L480.83,215L485,217.5L490,220L496.67,223.33L503.33,227.5L507.5,230L508.33,229.17" fill="none"/>
<path d="M540,201.67L536.67,205.83L531.67,207.5L530,211.67L530.83,215.83L530.83,218.33L527.5,220.83L523.33,223.33L520.83,225L520.83,227.5L523.33,230.83L525.83,231.67L528.33,233.33L531.33,237.5L535,243.33L538.33,249.17L542.35,250L548,252.82L553.65,254.94L559.29,256.78L561.41,256.35L564.24,255.36L567.76,255.93L568.47,258.19L570.59,255.65L574.82,252.82L578.35,254.24L579.06,256.35L580,255.83L582.5,258.33L583.33,262.5L585,265.83L588.33,269.17L590.83,272.5L594.17,270.83L597.5,270L600,268.33L602.5,269.17L605,271.67L608.33,270.83L610.83,272.5L613.33,273.33L617.5,271.67L621.67,270.83L625.83,269.17L629.17,266.67L630.83,263.33L631.67,259.17L633.67,255L633.53,251.18L631.76,248.24L630,245.29L627.65,241.76L624.71,238.82L622.94,236.47L625.29,234.12L627.65,232.94L625.29,231.18L622.94,230.59L620.59,231.76L617.65,230L615.29,227.65L617.65,224.71L620,222.35L621.76,223.53L622.35,226.47L625.29,225.29L627.88,224.12L630.59,221.76L632.94,220L635.29,218.24L637.06,217.29L635.29,214.71L636.47,212.35L638.24,210.59L637.65,207.06L637.06,203.53L635.29,202.71L633.53,203.88L630.59,204.71L628.82,204.12L624.12,201.18L619.41,198.24L614.71,195.29L611.18,192.94L607.65,191.18L601.76,191.76L599.41,191.18L599,193L598,200L570,210L540,201L537,204Z" fill="#e34a33"/>
<path d="M610,278L612.5,276.67L614.67,278L613.33,280.83L610.83,281.33Z" fill="#e34a33"/>
<path d="M634.17,264.17L636.33,263.33L637,266.67L635.83,270.83L634.17,269.17Z" fill="#fc8d59"/>
<path d="M540,201L546,197L554,197L558,195L562,195L565,197L572,198L580,200L588,199.6L594,198L598,200L599,204L605,205L607.6,207L604,209L598,210L594,213L595,216L590,218L584,220L578,219L570,218L564,216L558,213L550,211L547,207L543,204Z" fill="#fdcc8a"/>
<path d="M628,224L629.5,222L631,220.5L633,219.2L635,218.5L637.5,217.5L638.2,219L637,221.2L636,223.5L635.2,225.2L636.5,226.8L637.8,228.2L636.5,228.8L635,229.2L632.5,230.2L630.8,229.2L630,226.5Z" fill="#b30000"/>
<path d="M635,229.5L636.5,228.8L638,228.5L640,229.5L641.5,231.5L643,233.5L644,235.5L643.8,237.5L642,238.5L640,239L638.5,238L637.5,235.5L636.5,233.5L635.2,231.5Z" fill="#fdcc8a"/>
<path d="M656,211L657.5,212.2L659.5,213.5L662,214L664,213.2L665.5,214.5L666.8,215.8L665,217L664,219.5L662,218.5L660,219L658.5,220.5L657,219L656.2,217L657.5,215.5L657,213.5Z" fill="#fc8d59"/>
<path d="M660,221.2L662,222L664,224L665.5,226.5L666.2,229.5L666.5,232L667.8,234.5L668,236.5L666.2,238L664,238.5L662,239.5L660.5,241.5L659.2,240.2L657.5,238.5L655,239L652.5,239.8L650.5,240.8L649,240L651,238L653.5,236.5L656,236L657.5,235L657.2,232.5L659,231.5L660.5,230L661.5,227L660.8,224Z" fill="#fc8d59"/>
<path d="M646.5,242.5L648,241.2L650,240.8L651.5,242L652.5,244.5L652.8,247L651.2,248L650,246.5L649,244.5L647.5,243.8Z" fill="#fc8d59"/>
<path d="M653.5,241.2L655.5,240.2L657.2,240.8L656,242L654.5,243Z" fill="#fc8d59"/>
<path d="M511.67,219.17L516.67,217.5L523.33,216.67L530,216.67L530.83,218.33L527.5,220.83L523.33,223.33L520.83,225L515.83,224.17L513.33,225.33L510.83,224.17L513.33,222.5L516.67,222.5L513.33,221.33L510.83,223Z" fill="#fdcc8a"/>
<path d="M508.33,229.17L510,225.83L513.33,225.33L515.83,224.17L516.67,226.67L520.83,227.5L523.33,230.83L520.83,232.5L516.67,230.83L514.17,232.5L510.83,233Z" fill="#fdcc8a"/>
<path d="M495.83,237.5L498.33,235L501.67,232.5L505.83,231.67L508.33,229.17L510.83,233L514.17,232.5L516.67,230.83L520.83,232.5L523.33,230.83L525.83,231.67L522.5,234.17L519.17,235.83L517.5,240L515.83,244.17L512.5,246.67L510,249.17L505.83,250.83L502.5,252.5L498.33,252L497.5,248.33L495.83,243.33Z" fill="#fdcc8a"/>
<path d="M497.5,252L502.5,252.5L505.83,250.83L510,249.17L512.5,246.67L515.83,244.17L517.5,240L519.17,235.83L522.5,234.17L525.83,231.67L528.33,233.33L531.33,237.5L528.33,239.17L525,240L527.5,243.33L525.83,247.5L522.5,252.5L520,255.83L519.17,260L521.67,264.17L518.33,265.83L515,263.33L508.33,262.5L503.33,263L501.67,261.67L503.33,258.33L501.67,254.17Z" fill="#fdcc8a"/>
<path d="M458.33,227.5L461.67,225.83L465,227L467.5,227L469.17,230.33L471.67,232L475.83,232.83L478.33,231.17L485,230L491.67,233.33L495,237.5L495.83,243.33L498.33,248.33L497.5,251.67L501.67,254.17L503.33,258.33L501.67,261.67L495.83,262.5L490.83,260.83L487.5,257.5L481.67,256.67L477.5,253.33L473.33,250.83L470,250.83L467.5,247.5L464.17,243.33L461.67,238.33L459.17,233.33L457.5,230.83Z" fill="#fef0d9"/>
<path d="M447,215.5L450,215.8L454,216.5L458,217.8L460.5,219.5L462,221.5L460,222.4L457,222.4L455,221.7L453,221L450.5,219.4L448.5,217.7Z" fill="#b30000"/>
<path d="M455.5,221.8L459,222L460.5,224.5L462.5,227L461,228L459,226.5L457,224.5Z" fill="#b30000"/>
<path d="M459.5,221.8L462,220.8L464.5,221.2L466.5,222.5L468.5,224L469,226L468,228.5L467,228L466,226.5L464,226L462.5,226.5L460.5,224Z" fill="#e34a33"/>
<path d="M441.7,247.5L445,243.3L449.2,239.2L456.7,242.5L463.3,246.7L470,250.3L470.5,253.5L472,256L474,258.5L475,261L476.5,263L478.5,265L479.5,267.5L482,270L487,271.5L488,276L483,280L473,283.5L467,285L461,286.5L460,285L457.5,282L455,279L453,275.5L451,272L449,268.5L447,265L444.5,260L442,256L440.5,252L440,249.5L440.8,248Z" fill="#fef0d9"/>
<path d="M418.5,221L420.5,219.5L422.5,219.5L425,220L428,219.5L431.5,218.5L435,218.5L439,219.5L443,221L446.5,221.2L450,220L452,219.5L454,220.5L455,221.8L457.5,225L458,226.5L458.5,228.5L458,230.5L456,231.5L453,232L450,232.5L446,233.2L443,233.5L441.2,234L440,233.2L438,234L435,234.5L431.5,234L428,234.8L425,234L423,232.5L421,230.5L420,228L419.5,225.5L420.5,224L420,222.5Z" fill="#fc8d59"/>
<path d="M441.2,234L443,233.5L446,233.2L450,232.5L453,232L453.2,234L452.5,236.5L452,239L449.5,241L446.5,242.5L444,243.5L442.5,244L441.8,241.8L442.2,239.5L441.5,237Z" fill="#fc8d59"/>
<path d="M453,232L456,231.5L458,230.5L459,232.5L460,235.5L461.5,238L463,241L465.5,244L467.5,247L469.5,250L468.5,251L466.5,251.5L464,252L461,250L458,248L455,246L452,244.5L448.5,243.5L446.5,242.5L449.5,241L452,239L452.5,236.5L453.2,234Z" fill="#fc8d59"/>
<path d="M441.5,245.5L442.5,244L444,243.5L446.5,242.5L448.5,243.5L447.5,245.5L448.5,247L446.5,249L444.5,251L442.5,252.2L440.8,252L440.2,250L440.8,248.5Z" fill="#fdcc8a"/>
<path d="M439.8,242L441.2,241.8L441.8,243.5L441.5,245.5L440.8,248.5L440.2,250L439.5,247.5L439.3,244.5Z" fill="#fef0d9"/>
<path d="M440.5,239.5L441.8,239L442.2,240L441.2,241.8L440.5,241.5Z" fill="#fef0d9"/>
<path d="M467.5,250.5L469.5,250L470.5,252L469,253.5L467.8,252.5Z" fill="#fef0d9"/>
<path d="M476.2,262.8L476.8,260.8L478,260.5L478.8,262.5L478,264L476.8,264Z" fill="#fef0d9"/>
<path d="M479.5,267.5L481,269L485,270L488,270.5L488.5,268L489.2,265L489.8,262L489,261.5L487,264L484.5,266L482,266.5Z" fill="#fef0d9"/>
<path d="M489.8,262L490.5,264L493,266L496,268L498,270.5L497,272.5L495.5,276L494,279L491,282L487,284.5L484.5,285L483,283L482,281L481,279.5L484,278.5L487.5,277L488.5,273.5L488,270.5L488.5,268L489.2,265Z" fill="#fef0d9"/>
<path d="M489,260L490,259.8L490,261.5L489.2,261.5Z" fill="#fef0d9"/>
<path d="M461,286.5L460.5,284.5L463,284L467,283.8L470.5,284.5L472,282.5L475,281L478.5,280L481,279.5L482,281L483,283L484.5,285L483,287.5L478,290L472,293L466,295L462.5,296.2L461.5,295.5L461.2,292L460.8,289Z" fill="#fdcc8a"/>
<path d="M433.33,236.67L436.67,235.83L437.5,237.17L434.17,238.33Z" fill="#fdcc8a"/>
<path d="M390,198L398,196L408,196L412,200L412,210L406,216L400,216L396,210L392,204Z" fill="#e34a33"/>
<path d="M410,193L410.5,196L409,198.5L408.5,201L409,202.5L410,203.5L412,204.5L416,204L419,203.5L417,203.5L418.5,203.5L421,206L422,208L423.5,209.5L425,210.2L427,208.2L430,209L432,213L436,213L440.5,209.5L440,206.5L442,204.5L444,202.5L443.5,200L440,199L437,198.5L433,197L430,194L426,193.5L423,195L418,195.5L413,194.5L410,195Z" fill="#e34a33"/>
<path d="M417.24,203.24L418.53,202.94L420.29,203.82L422.06,205.59L423.53,207.65L424.12,209.12L423.24,210.41L422.65,210.59L421.35,209.71L420.76,208.24L419.71,206.65L418.53,205.29L417.65,204.41Z" fill="#fc8d59"/>
<path d="M410,187.5L412,185L416,184.5L419,184L422.5,185.5L424,188.5L426.5,191L425,192.5L425.5,194L423,195L418,195.5L413,194.5L410,195L407,194.5L405,192.5L405.5,189.5L407,187.8Z" fill="#e34a33"/>
<path d="M406.5,176.5L410,176L414,175.8L415,178L414.5,180.5L410,179.5L407.5,178.5Z" fill="#fdcc8a"/>
<path d="M403.5,181L406,180.5L407.5,179L410,179.8L414.5,180.8L417,183L416.5,185L414,185.5L410,184.5L407,184L404,183.2Z" fill="#e34a33"/>
<path d="M402.5,182.8L406,182.2L410,182.8L414,183.8L414.5,186L412,188L409,189L406.5,188.5L404,187.5L403,185.5Z" fill="#fc8d59"/>
<path d="M400,186.8L404,187.2L404,188L400.5,188.2Z" fill="#fc8d59"/>
<path d="M390.5,190L394,188L398,187L402,188L406.5,188.5L409,190L410,193L410.5,196L409,198.5L406,200L402.5,199.5L399.5,198.5L396.5,198L394,197L391.5,196L391,193Z" fill="#fc8d59"/>
<path d="M388,198.5L391,197L394,197L397,198.2L399.5,199L399,201L396,202L393,202.2L390.5,201.5Z" fill="#e34a33"/>
<path d="M398,201.8L400,200.5L402.5,199.7L406,200L409,199L409,202.5L406,203.5L402,204L399,204Z" fill="#e34a33"/>
<path d="M396.76,204.12L399.12,203.82L402.06,203.24L405,202.65L407.65,202.35L408.53,203.24L407.65,205L406.18,206.47L404.41,207.65L402.65,208.82L401.47,209.71L399.12,209.12L396.76,208.65L396.47,206.76Z" fill="#e34a33"/>
<path d="M406.18,206.47L407.65,205L408.53,203.24L410.88,203.82L413.24,204.41L415.59,203.82L417.24,203.24L417.65,204.41L418.53,205.29L419.71,206.65L420.76,208.24L421.35,209.71L422.65,210.59L423.82,211.47L422.94,212.65L421.76,214.12L421,214.12L419.12,214.41L416.76,215.29L414.41,215.59L412.06,215L410.29,215.29L409.12,212.65L407.65,211.47L406.18,209.71L405.29,208.24Z" fill="#e34a33"/>
<path d="M376.5,190L379.5,188.5L380.5,187.2L382.5,187.5L384.5,187L387,188.5L390,189.5L391,192L392,195L391,197L388,198.5L390,201L391.5,202.5L389.5,204L387,204.5L384,205L381,204.5L378.5,203L376.5,201L375.5,198.5L376,195L377,192Z" fill="#fdcc8a"/>
<path d="M378.59,182.65L379.18,181.47L380.65,181.18L381.82,180.29L382.71,180.29L382.82,181.47L381.82,182.65L382,184.41L381.24,186.18L380.35,187.65L379.47,187.35L378.88,185.88L378.47,184.12Z" fill="#fdcc8a"/>
<path d="M384.47,184.59L385.65,184.24L386.71,184.71L386.53,185.88L385.35,186.35L384.47,185.76Z" fill="#fdcc8a"/>
<path d="M371,192.5L374,190.5L376.5,190L377,192L375.5,195L374.5,196.5L371.5,195.2L370.5,194Z" fill="#fef0d9"/>
<path d="M368.5,196L371.5,195.2L374.5,196.5L375.5,198.5L374.5,200L371.5,198.2L369,197Z" fill="#fdcc8a"/>
<path d="M353.5,203.5L356.5,202.5L359.5,201L358.5,199L361,198.5L362.5,199.5L366.5,197L369,196.5L371.5,198L374.5,199.5L376.5,201L378.5,202.5L377.5,204.5L376,206.5L375.5,208.5L377.5,210L377.2,212L378.5,214.5L376,215.8L373,216L370,217L367,218.2L364,217.2L360.5,216L360,213L359.5,209L358,206.5L355,205Z" fill="#fef0d9"/>
<path d="M381,218L382.5,216.8L383.2,219L382.5,221L381.2,220.5Z" fill="#fef0d9"/>
<path d="M375.5,207L378.5,205L382,205L384.5,206.2L384,208L381,209L378,209.5L376,208.5Z" fill="#fef0d9"/>
<path d="M384,205L387,204.5L390,203L393,202L396,202.8L397,205L396,207L393,207.8L390,208L387,207L384.5,206.5Z" fill="#fdcc8a"/>
<path d="M344,216L347,215L351,215.5L356,215.8L360.5,216.5L364,217.8L367,218.5L369,219.2L367,221.2L364,223L362.5,225.5L361.5,228L360,230.5L357,233L354,233.5L351,235L349.5,234L348,232L347.5,229L348,226L348.5,223L349,220L346,219.5L344,218.5Z" fill="#fdcc8a"/>
<path d="M344,219L346,219.5L348.8,220.2L348.5,223L348,226L347.5,229L347.5,231.5L345.5,232.5L344,232L344.5,229L343,227L344,223Z" fill="#fc8d59"/>
<path d="M377.5,210L378,209.5L381,209L384,208L387,207.2L390,208.2L392,209.5L391,211L389,212L390,214.5L393,218L396,220.5L399,222L402,224L401,225L399,224.5L398.5,226.5L400,228L399,230L397.8,231L396.5,229.5L397,227.5L395.5,225.5L393,223L390,220.5L387,217.5L384,214.5L381,213.5L378.5,214.5Z" fill="#fdcc8a"/>
<path d="M389.5,230L393,229.5L396.5,229L396,231.5L395,233L392,232L389.5,231Z" fill="#fdcc8a"/>
<path d="M380.5,222.5L383,222L384,224L383.5,227L381.5,227.5L380.5,225Z" fill="#fdcc8a"/>
<path d="M391.18,208.53L393.24,207.94L395.29,207.65L396.76,208.65L394.71,209.12L392.65,210L391.18,210.41Z" fill="#fdcc8a"/>
<path d="M391.18,210.88L392.65,210L394.71,209.12L396.76,208.65L399.12,209.12L401.47,209.71L402.65,209.41L402.94,210.59L403.53,211.76L402.65,211.76L400.29,211.47L397.65,211.18L395.59,211.76L397.65,212.94L399.41,214.12L401.18,215.59L402.65,216.76L403.24,218.24L402.06,217.65L400,216.18L397.94,214.71L395.88,213.24L393.82,212.06L392.06,211.76Z" fill="#b30000"/>
<path d="M395.59,211.76L397.65,211.18L400.29,211.47L402.65,211.76L403.53,211.76L404.41,213.24L404.12,215L404.12,215.88L402.65,216.76L401.18,215.59L399.41,214.12L397.65,212.94Z" fill="#b30000"/>
<path d="M402.65,209.41L404.41,209.12L406.18,209.71L407.65,211.47L409.12,212.65L410.29,215.29L410.59,217.35L410.88,219.12L408.53,219.24L408.06,217.65L407.06,216.88L405.88,217.35L405,216.47L404.12,215L404.41,213.24L403.53,211.76L402.94,210.59Z" fill="#b30000"/>
<path d="M402.65,216.76L404.12,215.88L405,216.47L405.88,217.35L406.47,218.82L405.29,218.53L404.12,219.12L403.24,218.24Z" fill="#b30000"/>
<path d="M405.88,217.35L407.06,216.88L408.06,217.65L407.65,218.82L406.47,218.82Z" fill="url(#hatch)"/>
<path d="M404.12,219.12L405.29,218.53L406.47,218.82L406.88,221.47L406.47,223.24L405.59,224.41L404.71,223.82L404.12,221.76Z" fill="#e34a33"/>
<path d="M406.76,219.71L407.65,218.82L408.53,219.24L410.88,219.41L411.47,220.88L410.29,221.76L408.24,222.06L406.88,221.47Z" fill="#b30000"/>
<path d="M410.29,215.29L412.06,215L414.41,215.59L416.76,215.29L419.12,214.41L421,214.12L421.94,215.29L421.47,216.76L420.88,218.24L421.47,219.41L419.71,220L417.94,220.88L415.59,220.88L413.24,220.59L411.47,220.88L410.88,219.12L410.59,217.35Z" fill="#b30000"/>
<path d="M406.5,224.5L407.5,222L410.5,221.8L414,221L417,221L419,221.5L417.5,222.5L415.5,222.5L413.5,223L412.2,224L413,225.5L414.5,227L415,229L413.5,228.5L412,227L411.2,228L412.5,230L414,232L413,233.5L411.5,232.5L410,230.5L409,228.5L407.8,226.5Z" fill="#fc8d59"/>
<path d="M414,236.5L417,236.2L420,237L419.5,237.8L416,237.5Z" fill="#fc8d59"/>
<path d="M419.71,220L421.47,219.41L423.24,220.29L422.65,221.76L420.29,222.35L418.82,221.76Z" fill="#fc8d59"/>
<path d="M351.82,178.82L352.71,177.65L353.88,177.18L355.65,177.35L357.41,177.35L356.82,178.53L355.65,179.41L356.82,180L358.59,180.29L358.88,181.47L357.71,182.65L357.41,183.82L358.88,184.71L360.35,186.18L361.53,187.65L362.41,189.41L363.88,190.88L365.65,192.06L366.24,193.24L365.65,194.71L364.76,195.88L362.71,196.76L360.35,197.18L358,197.53L355.65,197.65L353.59,198.24L351.82,198.94L351.53,198.24L353,197.18L354.47,196.35L353,195.88L353.29,194.71L354.76,194.12L353.88,193.24L353.88,192.06L355.06,191.18L356.53,190.59L357.12,189.41L356.24,188.24L354.76,187.65L353.59,186.76L352.71,185.59L352.41,184.12L352.71,182.65L352.12,181.47L351.41,180.29Z" fill="#fef0d9"/>
<path d="M343.59,194.12L344.18,192.35L343.88,190.59L344.59,189.12L345.94,187.94L347.41,187.06L348.47,186.47L348.88,187.65L349.76,188.24L351.24,187.94L351.06,189.41L350.65,190.88L349.76,192.35L348.29,193.53L346.82,194.24L345.06,194.59Z" fill="#fdcc8a"/>
<path d="M348.47,186.47L349.76,185.88L351.06,186.47L351.65,187.53L351.24,187.94L349.76,188.24L348.88,187.65Z" fill="#fef0d9"/>
<path d="M373,169.5L372,172L372.5,175.5L374,177.5L377,178.5L380,177.5L383.5,176L384.5,178.5L386,181L388,183.5L389.5,185L393,185L394.5,182L394,179.5L395,176L397,174.5L394.5,172L395,169L398,166.5L400.5,164L401,162L403,160.5L406,162L404,164.5L401.5,167.5L401.5,170.5L403,173L406,174.5L410,174L415,173.5L417,172L419.5,168L416.5,165.5L416,162L414,159L414.5,156.5L412,154L414,152.5L415,151L413,149.5L409,148.8L404,149L399.5,150.5L395,151.5L391.5,154L388,157L385,160.5L382,163.5L378,166L374.5,167.5Z" fill="#fef0d9"/>
<path d="M383.5,176L385,173L384.5,169L385,165.5L388,162.5L389.5,159L391.5,155.5L396,153.5L398,152.8" fill="none"/>
<path d="M398,152.8L401,154.5L403,157.5L403.2,160.5" fill="none"/>
<path d="M398,152.8L402,154L405,153.5L407.5,151.5L410.5,152L412,154" fill="none"/>
<path d="M378,132L382,131.2L388,130.5L395,129.8L402,130.8L401,132.2L397,132.5L393,133.5L391,135L389,137.5L386,137.2L383,135.5L380,134Z" fill="#fef0d9"/>
<path d="M394.5,134.5L399.5,134.8L398,135.8L395,135.6Z" fill="#fef0d9"/>
<path d="M524.17,238.67L528.33,239.17L531.33,237.5L535,243.33L538.33,249.17L542.35,250L540.94,252.12L541.65,254.24L545.18,255.65L550.82,257.76L555.76,259.6L560,259.88L560.71,260.59L560.99,264.12L562.12,268.35L563.53,271.18L564.24,271.88L560.71,272.59L558.59,276.12L555.06,280.35L550.82,284.59L547.29,288.12L545.88,291.65L546.59,296.59L545.88,301.53L543.76,305.06L541.65,307.88L540.24,306.47L537.41,300.82L534.59,295.18L531.76,289.53L529.65,283.88L528.24,278.24L527.53,274L524,274.71L521.18,272.59L519.06,269.06L516.94,265.53L518.64,263.84L519.48,261.29L517.22,258.47L520.89,254.94L523.72,250.71Z" fill="#fc8d59"/>
<path d="M497.5,252L502.5,252.5L505.83,250.83L510,249.17L512.5,246.67L515.83,244.17L517.5,240L519.17,235.83L522.5,234.17L525.83,231.67L528.33,233.33L531.33,237.5L528.33,239.17L525,240L527.5,243.33L525.83,247.5L522.5,252.5L520,255.83L519.17,260L521.67,264.17L518.33,265.83L515,263.33L508.33,262.5L503.33,263L501.67,261.67L503.33,258.33L501.67,254.17Z" fill="#fdcc8a"/>
<path d="M540.94,252.12L542.35,250L548,252.82L553.65,254.94L559.29,256.78L560,259.88L555.76,259.6L550.82,257.76L545.18,255.65L541.65,254.24Z" fill="#fc8d59"/>
<path d="M561.41,256.35L564.24,255.36L567.76,255.93L568.47,258.19L565.65,259.18L562.12,258.75Z" fill="#fdcc8a"/>
<path d="M560,259.88L559.29,256.78L561.41,256.35L562.12,258.75L565.65,259.18L568.47,258.19L570.59,255.65L574.82,252.82L578.35,254.24L579.06,256.35L576.94,259.18L574.82,263.41L572.71,266.24L572,269.76L570.59,266.94L569.88,264.12L567.76,262.71L564.24,261.01L560.71,260.59Z" fill="#fc8d59"/>
<path d="M560.71,260.59L564.24,261.01L567.76,262.71L569.88,264.12L569.18,268.35L567.76,270.47L565.65,269.76L563.53,271.18L562.12,268.35L560.99,264.12Z" fill="#fc8d59"/>
<path d="M546.59,305.76L548,303.36L550.12,305.76L551.11,309.29L550.12,312.82L548,313.25L546.59,310.71Z" fill="#fc8d59"/>
<path d="M579.06,256.35L580.47,254.94L582.59,257.06L583.29,261.29L584.71,265.53L587.53,268.35L590.35,271.88L592.47,271.18L590.35,274L587.53,276.12L584.71,278.94L584,281.76L584.71,283.88L586.12,286.71L588.24,291.65L589.65,296.59L590.35,302.24L589.22,302.24L588.24,296.59L586.4,291.65L584.71,286.71L583.29,284.59L582.59,285.29L581.18,287.41L578.35,287.41L576.94,283.88L575.53,280.35L573.41,276.82L572,274L572,269.76L572.71,266.24L574.82,263.41L576.94,259.18Z" fill="#b30000"/>
<path d="M584.71,278.94L587.53,276.12L590.35,274L591.06,277.53L592.47,279.65L593.18,282.47L596,281.76L598.82,282.47L600.94,285.29L603.76,288.12L604.47,290.94L600.94,291.65L598.12,292.35L597.41,295.88L595.29,295.18L593.88,293.06L591.76,293.76L591.06,298L590.35,302.24L590.35,306.47L591.76,309.29L593.88,312.12L596,312.82L594.87,314.24L592.47,312.12L590.35,309.29L589.22,305.76L589.22,302.24L590.35,302.24L589.65,296.59L588.24,291.65L586.12,286.71L584.71,283.88L584,281.76Z" fill="#fc8d59"/>
<path d="M592.47,271.18L593.88,270.47L594.59,272.59L597.41,274.71L599.53,277.53L601.65,281.06L604.47,284.59L607.29,288.12L608,290.94L605.18,291.65L604.47,290.94L603.76,288.12L600.94,285.29L598.82,282.47L596,281.76L593.18,282.47L592.47,279.65L591.06,277.53L590.35,274Z" fill="#b30000"/>
<path d="M597.41,293.06L600.94,291.65L605.18,291.65L608,290.94L609.41,293.06L608.71,296.59L605.88,299.41L603.06,300.82L600.24,299.41L598.12,296.59Z" fill="#fc8d59"/>
<path d="M593.88,270.47L596.71,269.06L600.24,268.35L603.06,270.47L605.18,272.59L603.76,275.41L602.35,278.24L604.47,281.76L608,285.29L611.53,289.53L612.94,293.76L612.94,298L610.12,300.82L607.29,302.94L604.47,305.76L603.76,302.94L605.88,299.41L608.71,296.59L609.41,293.06L608,290.94L607.29,288.12L604.47,284.59L601.65,281.06L599.53,277.53L597.41,274.71L594.59,272.59Z" fill="#fc8d59"/>
<path d="M588.8,303L590,302L591.5,303.5L592.5,305.5L593.5,308L595,310L597,311.5L599.5,313L601,315.5L601.8,318.5L602.2,321.5L603.5,324.5L602.5,325.8L600.5,325L598.5,323.2L596.5,321L595,318.5L594,315.5L593.8,312.5L592,310.5L590.5,308.5L589.2,306.5Z" fill="#fc8d59"/>
<path d="M593.8,312.5L595,312L597,313" fill="none"/>
<path d="M582.5,315L585,314.8L588,315.5L590,317.5L592.5,320.5L594.5,323L597,324L599.5,326.5L602,328.5L601.8,330.5L604,333L606.5,335.5L607.8,337.5L607.2,341L606,344L604.5,344L602,342L599.5,339.5L597,336.5L595,333L593.5,330L591.5,327L589.5,323.5L587,320.5L584.5,317.5Z" fill="#fc8d59"/>
<path d="M605.5,345.5L607.5,344.5L610.5,345L613,346.5L615.5,347L618,346L620.5,347L623,348.5L626,349.5L628.5,350L628,351.5L625.5,351.8L622.5,351L619.5,350.5L616,349.5L612.5,349L609.5,348.5L607,347.5Z" fill="#fc8d59"/>
<path d="M631,351.8L633.5,350.8L636.5,350.5L636.8,351.5L634,352.2L631.8,352.8Z" fill="#fc8d59"/>
<path d="M638.5,351.2L642,350.5L645.5,350L645.8,351L642.5,351.8L639,352Z" fill="#fc8d59"/>
<path d="M636.5,354L638.5,353.5L640.5,355L639.5,355.8L637.2,355Z" fill="#fc8d59"/>
<path d="M646.5,355L649,353L652,351.5L655,351L655.8,351.4L655,352.2L652.5,353L650,354.5L647.5,356Z" fill="#fc8d59"/>
<path d="M614.5,326.5L615.5,324L618,324.5L620,322.5L622.5,321L625,319.5L627.5,317.5L629.5,315L630.5,312.5L632,311L634,312L635.5,314L637.8,315L636,316.5L634,318L633.8,320.5L635,323.5L636.8,326.2L634.8,327L634,330L633,333L631.5,335.5L631,338.5L628.5,339.2L626,338L623,338.5L620.5,337.5L618,336.5L617,333.5L615.5,330.5L614.5,328.5Z" fill="#fc8d59"/>
<path d="M615.5,325L618,326.8L621,326.2L624,325.8L626.5,326.2L628.5,324L629.5,321L630.5,318.5L633.5,318" fill="none"/>
<path d="M627,316L628,315.6L628.4,316.6L627.5,317Z" fill="#fef0d9"/>
<path d="M639,329.5L640.5,327.5L643,326.2L646.5,326.5L650,326.2L651.8,325L652.2,326.2L650,328L646.5,328.5L643.5,328.2L641.2,329.5L641,331.5L643.5,332L647.5,331L647.8,332L645,333.5L644,335.5L645.5,338.5L647,341.5L646.2,343.8L644.8,343L643.5,340L642,336.5L640.5,337L640.8,341L640,343.5L638.5,343.5L638,340L637.2,336.5L638,333Z" fill="#fc8d59"/>
<path d="M657,324L659,323.6L660,328L658.4,331L657.2,328Z" fill="#fc8d59"/>
<path d="M653.6,337.4L656.4,337L656.4,338.4L654,338.6Z" fill="#fc8d59"/>
<path d="M658,336.4L663,337L664.4,338.6L660,338.4Z" fill="#fc8d59"/>
<path d="M664,331L668,330L672,331.6L673,335L677,335L682,333L687,335.6L687.6,351L684,352L680,350L682,347L679,343L675,340L671,339L668,338L669,335.6L666,333.6Z" fill="#fc8d59"/>
<path d="M671.6,343L673.2,342.4L672.8,346L671.6,346.4Z" fill="#fc8d59"/>
<path d="M687.6,336L692,337L697,340L702,344L701,347L705,351L709,356L706,356.4L702,354L699,350L695,349L692,351L689,353L687.6,351Z" fill="#e34a33"/>
<path d="M704.4,343.6L708,344L712,342.4L714.4,340L713,337L711,336L715.6,338L715.6,341.6L713,344.4L709,345.6L705,345Z" fill="#e34a33"/>
<path d="M719,342.4L721,343.6L723,346.4L721.6,346.4L719.6,344Z" fill="#b30000"/>
<path d="M725,347L728,348.4L730,350.4L728.4,350.4L726,348.4Z" fill="#b30000"/>
<path d="M730,353L733,354.4L732.4,355.6L730,354.4Z" fill="#b30000"/>
<path d="M734,356L735.6,357.2L734.4,357.6Z" fill="#b30000"/>
<path d="M637,281L638.5,280.2L640.5,280.8L641.5,283L641.2,285.5L640.5,288L641,290.5L643,291.5L645,292L646.5,293.5L646.8,295L645.5,294.8L644,293.5L642,293L640.5,292.5L639,291L637.5,289.5L636.5,287L636.8,284Z" fill="#fc8d59"/>
<path d="M638.8,293.8L640,293.5L641.2,295.5L640.8,296.8L639.5,295.8Z" fill="#fc8d59"/>
<path d="M647.5,295.8L649.5,296.2L651,298L651.5,300L650.5,301.2L649.8,300L649,298.5L648,297.2Z" fill="#fc8d59"/>
<path d="M642.5,298.5L644,298.2L645.5,299.5L645,301L644,301.8L643.2,300.5Z" fill="#fc8d59"/>
<path d="M645,301.5L646.8,300.5L647.8,302L646.5,303.5L645.5,305L644.8,303.5Z" fill="#fc8d59"/>
<path d="M632.2,307L633.5,305L635,303L636.5,300.5L637.5,299.5L637.8,300.5L636.5,302.5L635,304.5L633.5,306.8Z" fill="#fc8d59"/>
<path d="M643.5,309.5L645,308L647,307.2L649,306L651,304.5L652.5,304L653.5,306L654,309L653.5,311.5L652.2,314L651,313.5L649.5,312L648.5,310L647,309.5L645.5,310.2L644,310.8Z" fill="#fc8d59"/>
<path d="M614.18,417.76L614.88,416.35L617,413.53L617.71,409.29L617.99,403.65L617,398.71L617.71,393.76L619.12,389.53L620.53,386.42L624.76,383.88L629.71,382.19L634.65,380.78L638.18,378.94L640.29,376.12L641.99,373.29L644.53,371.88L647.35,368.35L650.88,365.81L653.71,365.25L656.53,367.22L658.36,368.07L660.06,364.82L662.18,362L665,360.16L665.99,358.19L667.82,359.6L671.35,360.59L674.88,360.16L676.29,361.58L675.31,364.12L673.47,366.24L672.06,368.35L674.88,370.47L678.41,373.29L681.94,375.41L684.06,372.59L685.75,368.35L686.88,364.12L688.29,359.18L689.42,357.34L690.84,360.59L691.82,364.82L693.66,367.65L694.22,371.88L695.35,376.12L697.47,379.65L699.87,383.18L701.71,386.99L703.82,390.94L705.52,394.89L705.24,399.41L703.82,404.35L701.71,408.59L698.88,412.82L695.35,417.76L691.82,422L687.59,426.24L683.35,428.35L679.12,429.34L674.88,430.47L671.35,429.06L667.12,428.35L664.29,426.24L664.01,423.41L665,420.31L662.88,421.29L664.29,417.76L663.59,415.65L660.76,419.18L657.94,417.76L657.24,414.24L653.71,412.12L648.76,411.41L643.82,412.12L638.88,413.53L634.65,415.65L630.41,417.06L625.47,417.76L620.53,419.18L617,419.88L614.6,419.18Z" fill="#fef0d9"/>
<path d="M667.65,437.06L672.94,435.59L677.06,436.47L675,440.59L670.59,442.94L667.65,441.47Z" fill="#fef0d9"/>
<path d="M738.24,420L741.18,418.82L742.65,425.29L746.47,427.65L743.53,431.18L738.24,434.12L733.82,437.65L731.76,435.59L735.88,430.59L738.82,426.76Z" fill="#fef0d9"/>
<path d="M705.88,448.24L711.76,444.41L720.59,440L727.94,435.59L730.88,437.06L726.47,441.47L719.12,445.29L713.24,449.41L707.35,450.59Z" fill="#fef0d9"/>
<path d="M743.53,367.94L745,367.94L745.29,371.76L743.82,371.76Z" fill="#e34a33"/>
<path d="M766.18,374.71L769.12,373.82L770,375.88L767.06,377.06Z" fill="#b30000"/>
<path d="M770,371.76L773.53,370.88L773.53,372.35L770.59,372.94Z" fill="#b30000"/>
<path d="M734.71,381.76L736.76,381.18L740.59,386.47L738.82,387.65Z" fill="url(#hatch)"/>
<path d="M422,217L423,213L425,210L427,208L430,208.5L431.5,211L433,212.5L435,212L437.5,212L440,213L443,214L446,215.5L448.5,217L450,219L450,221L447,222L444,221.5L440,220L436,219.5L432,220L429,221.5L426,221.5L423.5,220L422,218.5Z" fill="#ffffff"/>
<path d="M435,208.5L437,207.5L439.5,206.8L441,207.5L440.5,209.5L438.5,211L436,210.8Z" fill="#ffffff"/>
<path d="M460.12,212.38L462,209.75L465,207.88L468,206.9L471,207.12L472.35,208.62L471.75,210.5L469.12,211.25L467.62,212.38L467.25,213.88L468.75,215L471,216.12L472.5,217.62L474,219.12L475.12,218.6L476.62,218.75L477.9,219.88L478.35,221.75L477.38,222.88L475.88,222.12L475.12,222.5L475.88,224.75L477,227.38L478.12,230L478.12,233L475.5,234.5L471.75,233.75L469.5,231.5L468.75,228.5L468,225.88L466.12,222.5L463.88,219.5L462,216.5L460.5,214.25Z" fill="#ffffff"/>
<path d="M421.69,159.25L425.65,160.24L428.75,159.53L432,160.24L433.69,161.22L432.99,163.06L429.88,162.35L427.76,164.05L426.78,165.18L424.94,163.48L422.54,161.65Z" fill="#ffffff"/>
<path d="M9.2,276.3L11.5,277L10.8,279.6L9,279.2Z" fill="#fdcc8a"/>
<path d="M7.6,273.6L8.8,273.8L8.6,274.8L7.6,274.6Z" fill="#fdcc8a"/>
<path d="M5.2,272.3L6.4,272.5L6.2,273.4L5.2,273.2Z" fill="#fdcc8a"/>
<path d="M2.2,270.8L3.3,270.9L3.2,271.8L2.2,271.7Z" fill="#fdcc8a"/>
<path d="M305.15,284.22L305.85,284.22L305.85,284.78L305.15,284.78Z" fill="#fef0d9"/>
<path d="M307.15,285.22L307.85,285.22L307.85,285.78L307.15,285.78Z" fill="#fef0d9"/>
<path d="M310.15,285.72L310.85,285.72L310.85,286.28L310.15,286.28Z" fill="#fef0d9"/>
<path d="M310.15,287.22L310.85,287.22L310.85,287.78L310.15,287.78Z" fill="#fef0d9"/>
<path d="M308.65,289.22L309.35,289.22L309.35,289.78L308.65,289.78Z" fill="#fef0d9"/>
<path d="M307.15,290.22L307.85,290.22L307.85,290.78L307.15,290.78Z" fill="#fef0d9"/>
<path d="M324.8,293.4L328,293L331,293.2L331.2,294.3L328,294.2L324.8,294.6Z" fill="#fdcc8a"/>
<path d="M377.5,327.6L378.5,327.6L378.5,328.4L377.5,328.4Z" fill="#fef0d9"/>
<path d="M462.4,359.52L463.6,359.52L463.6,360.48L462.4,360.48Z" fill="#fef0d9"/>
<path d="M464.1,360.8L465.1,360.8L465.1,361.6L464.1,361.6Z" fill="#fef0d9"/>
<path d="M492.3,381.44L493.7,381.44L493.7,382.56L492.3,382.56Z" fill="#e34a33"/>
<path d="M490,340.68L490.8,340.68L490.8,341.32L490,341.32Z" fill="#fef0d9"/>
<path d="M531.8,318.18L532.6,318.18L532.6,318.82L531.8,318.82Z" fill="#fef0d9"/>
<path d="M532,319.68L532.8,319.68L532.8,320.32L532,320.32Z" fill="#fef0d9"/>
<path d="M672,309.1L673,309.1L673,309.9L672,309.9Z" fill="#e34a33"/>
</g>
<g>
<rect x="244.7" y="537.5" width="47.6" height="10.7" fill="url(#hatch)" stroke="#c6c6c6" stroke-width="1"/>
<rect x="312.3" y="537.6" width="58.3" height="10.6" fill="#fef0d9" stroke="#b5b5b5" stroke-width="0.7"/>
<rect x="370.6" y="537.6" width="58.6" height="10.6" fill="#fdcc8a" stroke="#b5b5b5" stroke-width="0.7"/>
<rect x="429.2" y="537.6" width="58.6" height="10.6" fill="#fc8d59" stroke="#b5b5b5" stroke-width="0.7"/>
<rect x="487.8" y="537.6" width="58.6" height="10.6" fill="#e34a33" stroke="#b5b5b5" stroke-width="0.7"/>
<path d="M546.4,537.6 L599.7,537.6 L605,542.9 L599.7,548.2 L546.4,548.2Z" fill="#b30000" stroke="#b5b5b5" stroke-width="0.7"/>
<line x1="268.5" y1="534" x2="268.5" y2="537.5" stroke="#b0b0b0" stroke-width="1"/>
<line x1="312.3" y1="534" x2="312.3" y2="537.5" stroke="#b0b0b0" stroke-width="1"/>
<line x1="370.6" y1="534" x2="370.6" y2="537.5" stroke="#b0b0b0" stroke-width="1"/>
<line x1="429.2" y1="534" x2="429.2" y2="537.5" stroke="#b0b0b0" stroke-width="1"/>
<line x1="487.8" y1="534" x2="487.8" y2="537.5" stroke="#b0b0b0" stroke-width="1"/>
<line x1="546.4" y1="534" x2="546.4" y2="537.5" stroke="#b0b0b0" stroke-width="1"/>
</g>
</svg>
</body></html>
